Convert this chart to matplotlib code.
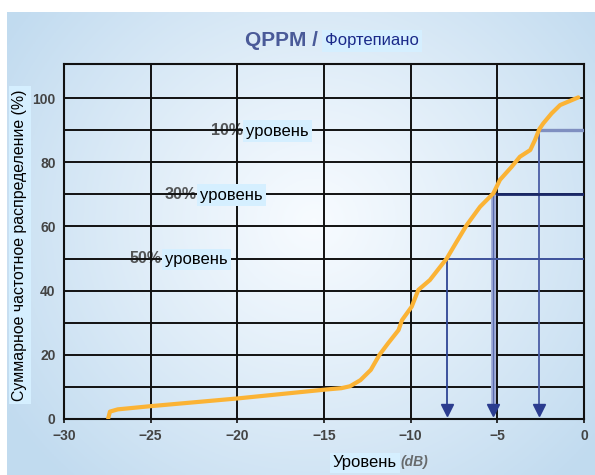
import numpy as np
import matplotlib
matplotlib.use("Agg")
import matplotlib.pyplot as plt
from matplotlib import font_manager as fm

# ---- data ----
level_db = [-27.45, -27.35, -26.9, -25.0, -20.0, -14.85, -14.0, -13.5, -12.9, -12.3,
            -11.8, -11.3, -10.7, -10.5, -9.94, -9.56, -8.89, -7.92, -7.35, -6.77,
            -6.0, -5.23, -4.85, -4.17, -3.7, -3.1, -2.83, -2.58, -2.35, -1.87, -1.38, -0.33]
cum_pct = [0.2, 2.3, 3.0, 4.0, 6.4, 9.2, 9.6, 10.2, 12.1, 15.3,
           20.0, 23.6, 27.7, 30.8, 35.0, 40.2, 43.3, 50.0, 55.2, 60.4,
           66.1, 70.3, 74.5, 78.6, 81.7, 83.8, 86.9, 90.3, 92.1, 95.2, 97.8, 100.2]

level_names = ["10%", "30%", "50%"]
level_y = [90, 70, 50]
level_x = [-2.58, -5.27, -7.92]
label_x = [-19.7, -22.35, -24.35]
word = "уровень"

x_ticks = [-30, -25, -20, -15, -10, -5, 0]
y_ticks = [0, 20, 40, 60, 80, 100]

# ---- fonts ----
names = {f.name for f in fm.fontManager.ttflist}
narrow = "Liberation Sans Narrow" if "Liberation Sans Narrow" in names else "Liberation Sans"
plt.rcParams["font.family"] = [narrow, "DejaVu Sans"]
TXT = 14 if narrow.endswith("Narrow") else 12

W, H = 595, 475
fig = plt.figure(figsize=(W / 100, H / 100), dpi=100)
fig.patch.set_facecolor("white")

# background radial gradient
bg = fig.add_axes([7 / W, 0, 1 - 7 / W, (H - 12) / H])
bg.set_axis_off()
ny, nx = 200, 250
yy, xx = np.mgrid[0:ny, 0:nx]
cx, cy = nx * 0.52, ny * 0.45
r = np.sqrt(((xx - cx) / (nx * 0.62)) ** 2 + ((yy - cy) / (ny * 0.75)) ** 2)
r = np.clip(r, 0, 1) ** 1.1
c_in = np.array([0.97, 0.985, 1.0])
c_out = np.array([0.76, 0.86, 0.94])
img = c_in[None, None, :] * (1 - r[..., None]) + c_out[None, None, :] * r[..., None]
bg.imshow(img, aspect="auto", extent=[0, 1, 0, 1], origin="upper")
bg.set_xlim(0, 1)
bg.set_ylim(0, 1)

ax = fig.add_axes([64 / W, 1 - 419 / H, 520 / W, 355 / H])
ax.patch.set_alpha(0)
ax.set_xlim(-30, 0)
ax.set_ylim(0, 110.6)

# grid
for gx in range(-25, 0, 5):
    ax.axvline(gx, color="#111111", lw=1.4, zorder=2)
for gy in range(10, 101, 10):
    ax.axhline(gy, color="#111111", lw=1.4, zorder=2)
for s in ax.spines.values():
    s.set_color("#111111")
    s.set_linewidth(1.5)

# reference lines
h_cols = ["#7f8fc0", "#1a2868", "#4256a0"]
h_lws = [2.4, 2.0, 1.4]
v_cols = ["#4a5ca5", "#a4b0da", "#2f4595"]
v_lws = [1.3, 3.6, 1.3]
for lx, ly, hc, hl, vc, vl in zip(level_x, level_y, h_cols, h_lws, v_cols, v_lws):
    ax.plot([lx, 0], [ly, ly], color=hc, lw=hl, zorder=3, solid_capstyle="butt")
    ax.plot([lx, lx], [ly, 2.5], color=vc, lw=vl, zorder=3, solid_capstyle="butt")
    if vl > 3:
        ax.plot([lx, lx], [ly, 2.5], color="#5a6cb0", lw=1.0, zorder=3)
    ax.plot([lx], [2.9], marker="v", ms=9, color="#2b3c8f", mec="#2b3c8f", zorder=4)

# curve
ax.plot(level_db, cum_pct, color="#fbb335", lw=3.0, zorder=5, solid_capstyle="round")

# level labels
for nm, ly, lxx in zip(level_names, level_y, label_x):
    ax.text(lxx, ly, nm, ha="right", va="center", fontsize=11.5, fontweight="bold",
            family=["Liberation Sans", "DejaVu Sans"], color="#3a3a3a", alpha=0.85, zorder=1)
    ax.text(lxx + 0.2, ly - 0.3, word, ha="left", va="center", fontsize=TXT, color="black",
            zorder=6, bbox=dict(boxstyle="square,pad=0.2", fc="#d5efff", ec="none"))

# ticks
ax.set_xticks(x_ticks)
ax.set_xticklabels(["\u221230", "\u221225", "\u221220", "\u221215", "\u221210", "\u22125", "0"])
ax.set_yticks(y_ticks)
ax.tick_params(axis="x", direction="out", length=3, width=1.2, pad=4, colors="#111111")
ax.tick_params(axis="y", length=0, pad=6)
for lab in ax.get_xticklabels() + ax.get_yticklabels():
    lab.set_family(["Liberation Sans", "DejaVu Sans"])
    lab.set_fontweight("bold")
    lab.set_fontsize(10)
    lab.set_color("#444444")

# title
fig.text(318 / W, 1 - 40 / H, "QPPM /", ha="right", va="center", fontsize=15,
         fontweight="bold", family=["Liberation Sans", "DejaVu Sans"], color="#3a4a8e", alpha=0.9)
fig.text(325 / W, 1 - 41 / H, "Фортепиано", ha="left", va="center", fontsize=TXT,
         color="#1a2a8a", bbox=dict(boxstyle="square,pad=0.2", fc="#d5efff", ec="none"))

# y label
fig.text(20 / W, 1 - 245 / H, "Суммарное частотное распределение (%)", rotation=90,
         ha="center", va="center", fontsize=TXT - 0.6, color="black",
         bbox=dict(boxstyle="square,pad=0.2", fc="#d5efff", ec="none"))

# x label
fig.text(397 / W, 1 - 463 / H, "Уровень", ha="right", va="center", fontsize=TXT, color="black",
         bbox=dict(boxstyle="square,pad=0.15", fc="#d5efff", ec="none"))
fig.text(400 / W, 1 - 462 / H, "(dB)", ha="left", va="center", fontsize=10, style="italic",
         fontweight="bold", family=["Liberation Sans", "DejaVu Sans"], color="#555555", alpha=0.85)

fig.savefig("out.png", dpi=100)
